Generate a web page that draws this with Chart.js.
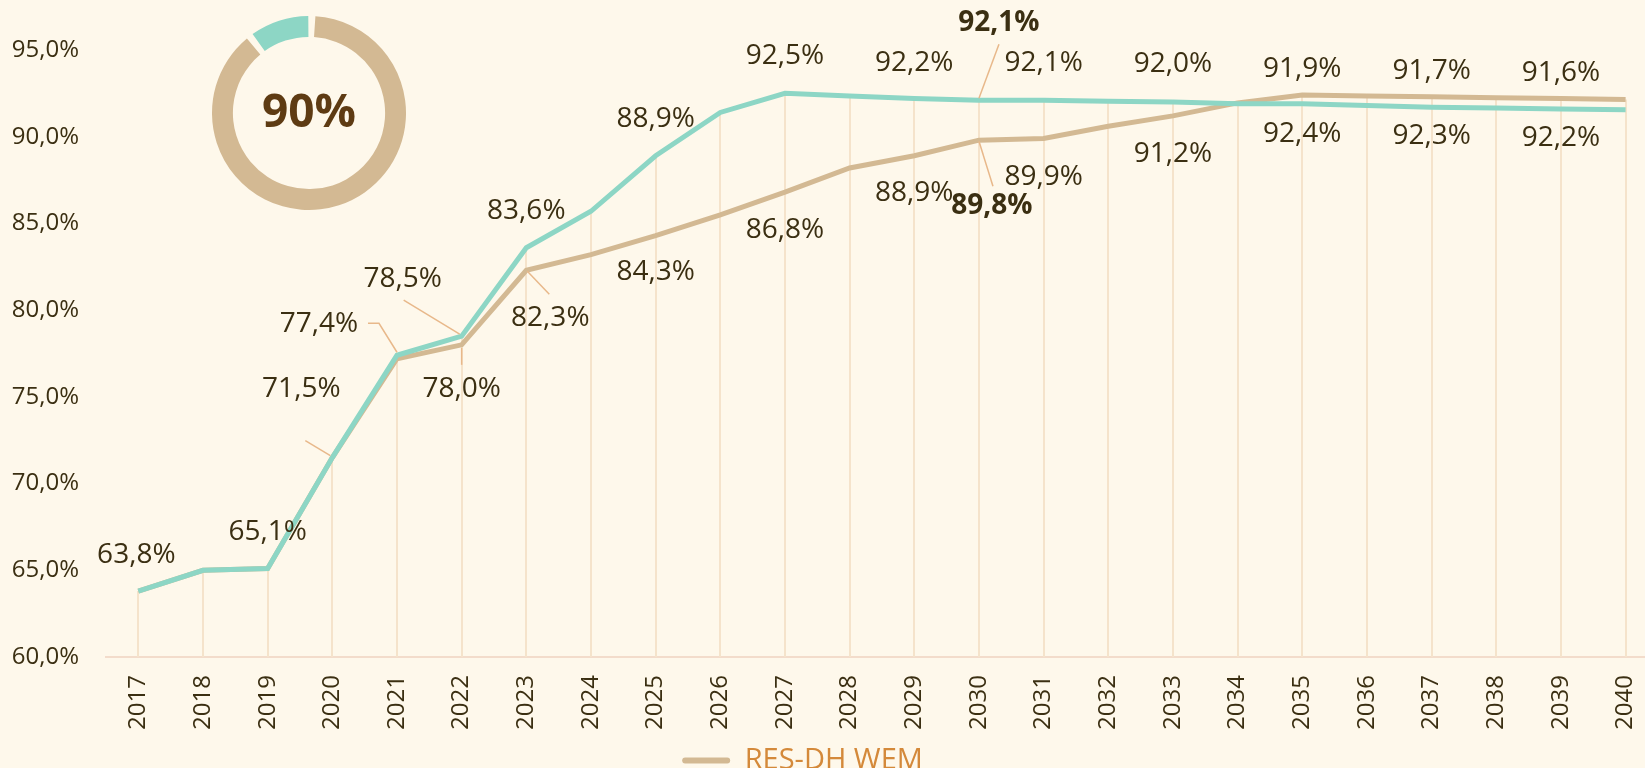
<!DOCTYPE html>
<html>
<head>
<meta charset="utf-8">
<script src="https://cdn.jsdelivr.net/npm/chart.js@4.4.1/dist/chart.umd.min.js"></script>
<style>
  body { margin: 0; background: #fef8eb; }
  #wrap { position: relative; width: 1645px; height: 768px; overflow: hidden; }
  #donut { position: absolute; left: 212px; top: 16px; }
</style>
</head>
<body>
<div id="wrap">
  <canvas id="chart" width="1645" height="768"></canvas>
  <canvas id="donut" width="194" height="194"></canvas>
</div>
<script>
// chart data
const years = [2017, 2018, 2019, 2020, 2021, 2022, 2023, 2024, 2025, 2026, 2027, 2028,
  2029, 2030, 2031, 2032, 2033, 2034, 2035, 2036, 2037, 2038, 2039, 2040];
const tealValues = [63.8, 65.0, 65.1, 71.5, 77.4, 78.5, 83.6, 85.7, 88.9, 91.4, 92.5, 92.35,
  92.2, 92.1, 92.1, 92.05, 92.0, 91.9, 91.9, 91.8, 91.7, 91.65, 91.6, 91.55];
const wemValues = [63.8, 65.0, 65.1, 71.5, 77.2, 78.0, 82.3, 83.2, 84.3, 85.5, 86.8, 88.2,
  88.9, 89.8, 89.9, 90.6, 91.2, 91.95, 92.4, 92.35, 92.3, 92.25, 92.2, 92.15];
const donutValues = [90, 10];
const donutText = '90%';
const yTicks = [60, 65, 70, 75, 80, 85, 90, 95];

// label placement (pixel offsets from the point), kept apart from the data
const tealLabelOffsets = [[-2, -36], null, [0, -37], [-31, -69], [-78, -31], [-59, -57], [0, -37], null,
  [0, -37], null, [0, -37], null, [0, -36], [20, -77], [0, -37], null, [0, -38], null, [0, -35], null,
  [0, -36], null, [0, -36], null];
const wemLabelOffsets = [null, null, null, null, null, [0, 44], [24, 48], null, [0, 36], null, [0, 38], null,
  [0, 37], [13, 66], [0, 39], null, [0, 38], null, [0, 39], null, [0, 39], null, [0, 39], null];
const tealLeaders = { 3: [[-27, -17], [-2, -2]], 4: [[-29, -32], [-18, -32], [0, -3]], 5: [[-58, -36], [-2, -2]], 13: [[20, -56], [0, -2]] };
const wemLeaders = { 5: [[0, 3], [0, 20]], 6: [[1, 1], [23, 24]], 13: [[0, 1], [14, 46]] };
const boldIndex = 13;

const TEAL = '#8dd6c5';
const TAN = '#d3b993';
const TEXT = '#3b2f12';

Chart.defaults.font.family = "'Open Sans', sans-serif";

const fmt = v => v.toFixed(1).replace('.', ',') + '%';

// vertical lines from the highest point down to the axis
const dropLines = {
  id: 'dropLines',
  beforeDatasetsDraw(chart) {
    const { ctx, chartArea } = chart;
    const a = chart.getDatasetMeta(0).data;
    const b = chart.getDatasetMeta(1).data;
    ctx.save();
    ctx.strokeStyle = '#f5e3cb';
    ctx.lineWidth = 2;
    a.forEach((pt, i) => {
      const top = Math.min(pt.y, b[i].y);
      ctx.beginPath();
      ctx.moveTo(Math.round(pt.x), top);
      ctx.lineTo(Math.round(pt.x), chartArea.bottom);
      ctx.stroke();
    });
    ctx.restore();
  }
};

const valueLabels = {
  id: 'valueLabels',
  afterDatasetsDraw(chart) {
    const { ctx } = chart;
    const sets = [
      { meta: chart.getDatasetMeta(0), values: tealValues, offsets: tealLabelOffsets, leaders: tealLeaders },
      { meta: chart.getDatasetMeta(1), values: wemValues, offsets: wemLabelOffsets, leaders: wemLeaders }
    ];
    ctx.save();
    sets.forEach(s => {
      // leader lines
      ctx.strokeStyle = '#e8b88a';
      ctx.lineWidth = 1.5;
      Object.keys(s.leaders).forEach(k => {
        const pt = s.meta.data[k];
        ctx.beginPath();
        s.leaders[k].forEach(([dx, dy], j) => {
          if (j === 0) ctx.moveTo(pt.x + dx, pt.y + dy);
          else ctx.lineTo(pt.x + dx, pt.y + dy);
        });
        ctx.stroke();
      });
      // texts
      ctx.fillStyle = TEXT;
      ctx.textAlign = 'center';
      ctx.textBaseline = 'middle';
      s.offsets.forEach((off, i) => {
        if (!off) return;
        const pt = s.meta.data[i];
        ctx.font = (i === boldIndex ? 'bold ' : '') + "28px 'Open Sans'";
        ctx.fillText(fmt(s.values[i]), pt.x + off[0], pt.y + off[1]);
      });
    });
    ctx.restore();
  }
};

// nudge the legend a little to the left, as in the original
const legendShift = {
  id: 'legendShift',
  afterLayout(chart) {
    if (chart.legend) {
      chart.legend.left -= 20;
      chart.legend.right -= 20;
    }
  }
};

new Chart(document.getElementById('chart'), {
  type: 'line',
  data: {
    datasets: [
      {
        label: 'RES-DH',
        data: years.map((y, i) => ({ x: y, y: tealValues[i] })),
        borderColor: TEAL,
        backgroundColor: TEAL,
        borderWidth: 5,
        pointRadius: 0,
        tension: 0
      },
      {
        label: 'RES-DH WEM',
        data: years.map((y, i) => ({ x: y, y: wemValues[i] })),
        borderColor: TAN,
        backgroundColor: TAN,
        borderWidth: 5,
        pointRadius: 0,
        tension: 0
      }
    ]
  },
  options: {
    responsive: false,
    animation: false,
    layout: { padding: { top: 50, left: 0, right: 0, bottom: -17 } },
    scales: {
      x: {
        type: 'linear',
        min: 2016.5,
        max: 2040.3,
        afterBuildTicks: scale => { scale.ticks = years.map(v => ({ value: v })); },
        afterFit: scale => {
          scale.height = 89;
          scale.paddingLeft = 0;
          scale.paddingRight = 0;
        },
        grid: { display: false, drawTicks: false },
        border: { display: true, color: '#f3dccb', width: 2 },
        ticks: {
          autoSkip: false,
          minRotation: 90,
          maxRotation: 90,
          padding: 18,
          color: TEXT,
          font: { size: 24 },
          callback: v => String(v)
        }
      },
      y: {
        min: 60,
        max: 95,
        afterBuildTicks: scale => { scale.ticks = yTicks.map(v => ({ value: v })); },
        afterFit: scale => {
          scale.width = 106;
          scale.paddingTop = 0;
          scale.paddingBottom = 0;
        },
        grid: { display: false, drawTicks: false },
        border: { display: false },
        ticks: {
          padding: 27,
          color: TEXT,
          font: { size: 24 },
          callback: v => fmt(v)
        }
      }
    },
    plugins: {
      tooltip: { enabled: false },
      legend: {
        position: 'bottom',
        labels: {
          color: '#d4893a',
          font: { size: 29 },
          boxWidth: 48,
          boxHeight: 6,
          padding: 0,
          filter: item => item.datasetIndex === 1,
          generateLabels(chart) {
            const items = Chart.defaults.plugins.legend.labels.generateLabels(chart);
            items.forEach(it => { it.lineWidth = 0; it.fillStyle = TAN; it.borderRadius = 3; });
            return items;
          }
        }
      }
    }
  },
  plugins: [dropLines, valueLabels, legendShift]
});

// small ring in the top-left corner
const centerText = {
  id: 'centerText',
  afterDraw(chart) {
    const { ctx, chartArea } = chart;
    ctx.save();
    ctx.fillStyle = '#5e3b13';
    ctx.font = "bold 46px 'Open Sans'";
    ctx.textAlign = 'center';
    ctx.textBaseline = 'middle';
    ctx.fillText(donutText, (chartArea.left + chartArea.right) / 2, (chartArea.top + chartArea.bottom) / 2 + 1);
    ctx.restore();
  }
};

new Chart(document.getElementById('donut'), {
  type: 'doughnut',
  data: {
    labels: ['RES', 'other'],
    datasets: [{
      data: donutValues,
      backgroundColor: [TAN, TEAL],
      borderWidth: 0,
      spacing: 4
    }]
  },
  options: {
    responsive: false,
    animation: false,
    cutout: '78%',
    plugins: { legend: { display: false }, tooltip: { enabled: false } }
  },
  plugins: [centerText]
});
</script>
</body>
</html>
